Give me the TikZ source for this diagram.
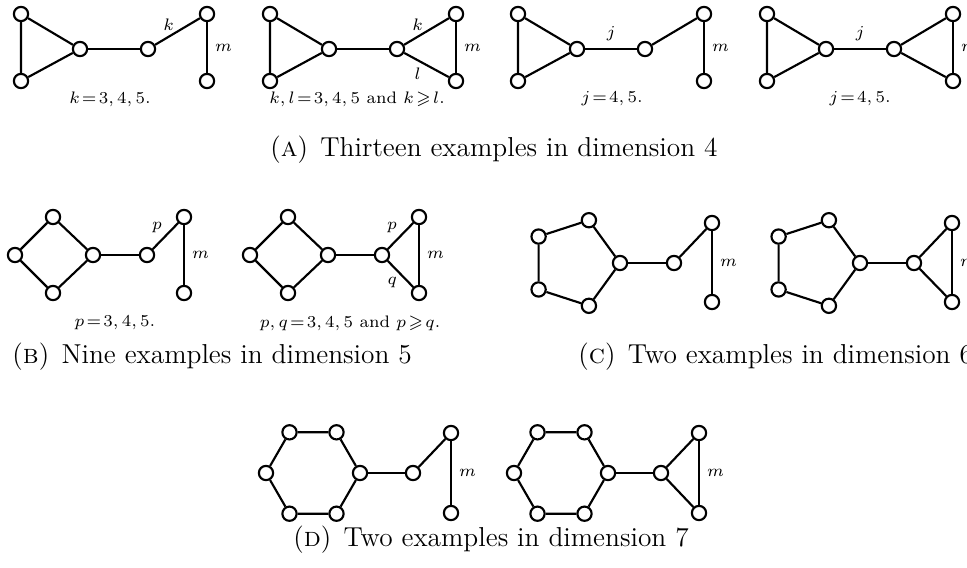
\documentclass[tikz,border=0pt]{standalone}
\usepackage{amssymb}
\usepackage{amsmath}
\usepackage{tikz}

\begin{document}
\begin{tikzpicture}[x=0.42pt, y=-0.42pt,
    wierz/.style={circle, draw, line width=0.9pt, fill=white, inner sep=0pt, minimum size=6pt},
    kraw/.style={line width=0.9pt},
    etyk/.style={font=\fontsize{7.5}{9}\selectfont, inner sep=0pt},
    opis/.style={font=\fontsize{7}{8.5}\selectfont, inner sep=0pt,
        execute at begin node={\thickmuskip=2mu plus 1mu\relax}},
    podpis/.style={font=\fontsize{11.5}{14}\selectfont, inner sep=0pt}]

\useasboundingbox (0,0) rectangle (967,567);

% ============================================
% (A) WYMIAR 4
% ============================================
\begin{scope}[shift={(21,0)}]
    \node[wierz] (A1a) at (0,14) {};
    \node[wierz] (A1b) at (0,81) {};
    \node[wierz] (A1c) at (59,49) {};
    \node[wierz] (A1d) at (127,49) {};
    \node[wierz] (A1e) at (186,14) {};
    \node[wierz] (A1f) at (186,81) {};
    \draw[kraw] (A1a) -- (A1b) -- (A1c) -- (A1a);
    \draw[kraw] (A1c) -- (A1d);
    \draw[kraw] (A1d) -- node[etyk, pos=.3, above=2pt] {$k$} (A1e);
    \draw[kraw] (A1e) -- node[etyk, right=3pt] {$m$} (A1f);
    \node[opis] (A1p) at (89,99) {$k=3,4,5.$};
\end{scope}

\begin{scope}[shift={(270,0)}]
    \node[wierz] (A2a) at (0,14) {};
    \node[wierz] (A2b) at (0,81) {};
    \node[wierz] (A2c) at (59,49) {};
    \node[wierz] (A2d) at (127,49) {};
    \node[wierz] (A2e) at (186,14) {};
    \node[wierz] (A2f) at (186,81) {};
    \draw[kraw] (A2a) -- (A2b) -- (A2c) -- (A2a);
    \draw[kraw] (A2c) -- (A2d);
    \draw[kraw] (A2d) -- node[etyk, pos=.3, above=2pt] {$k$} (A2e);
    \draw[kraw] (A2d) -- node[etyk, pos=.3, below=3pt] {$l$} (A2f);
    \draw[kraw] (A2e) -- node[etyk, right=3pt] {$m$} (A2f);
    \node[opis] (A2p) at (87,99) {$k,l=3,4,5$ and $k\geqslant l$.};
\end{scope}

\begin{scope}[shift={(518,0)}]
    \node[wierz] (A3a) at (0,14) {};
    \node[wierz] (A3b) at (0,81) {};
    \node[wierz] (A3c) at (59,49) {};
    \node[wierz] (A3d) at (127,49) {};
    \node[wierz] (A3e) at (186,14) {};
    \node[wierz] (A3f) at (186,81) {};
    \draw[kraw] (A3a) -- (A3b) -- (A3c) -- (A3a);
    \draw[kraw] (A3c) -- node[etyk, above=3pt] {$j$} (A3d);
    \draw[kraw] (A3d) -- (A3e);
    \draw[kraw] (A3e) -- node[etyk, right=3pt] {$m$} (A3f);
    \node[opis] (A3p) at (94,99) {$j=4,5.$};
\end{scope}

\begin{scope}[shift={(767,0)}]
    \node[wierz] (A4a) at (0,14) {};
    \node[wierz] (A4b) at (0,81) {};
    \node[wierz] (A4c) at (59,49) {};
    \node[wierz] (A4d) at (127,49) {};
    \node[wierz] (A4e) at (186,14) {};
    \node[wierz] (A4f) at (186,81) {};
    \draw[kraw] (A4a) -- (A4b) -- (A4c) -- (A4a);
    \draw[kraw] (A4c) -- node[etyk, above=3pt] {$j$} (A4d);
    \draw[kraw] (A4d) -- (A4e);
    \draw[kraw] (A4d) -- (A4f);
    \draw[kraw] (A4e) -- node[etyk, right=3pt] {$m$} (A4f);
    \node[opis] (A4p) at (93,99) {$j=4,5.$};
\end{scope}

\node[podpis] (capA) at (494,150) {(\textsc{a})\hspace{0.45em}Thirteen examples in dimension 4};

% ============================================
% (B) WYMIAR 5
% ============================================
\begin{scope}[shift={(15,0)}]
    \node[wierz] (B1a) at (0,255) {};
    \node[wierz] (B1b) at (38,217) {};
    \node[wierz] (B1c) at (78,255) {};
    \node[wierz] (B1d) at (38,293) {};
    \node[wierz] (B1e) at (132,255) {};
    \node[wierz] (B1f) at (169,217) {};
    \node[wierz] (B1g) at (169,293) {};
    \draw[kraw] (B1a) -- (B1b) -- (B1c) -- (B1d) -- (B1a);
    \draw[kraw] (B1c) -- (B1e);
    \draw[kraw] (B1e) -- node[etyk, above left=1pt] {$p$} (B1f);
    \draw[kraw] (B1f) -- node[etyk, right=3pt] {$m$} (B1g);
    \node[opis] (B1p) at (100,323) {$p=3,4,5.$};
\end{scope}

\begin{scope}[shift={(250,0)}]
    \node[wierz] (B2a) at (0,255) {};
    \node[wierz] (B2b) at (38,217) {};
    \node[wierz] (B2c) at (78,255) {};
    \node[wierz] (B2d) at (38,293) {};
    \node[wierz] (B2e) at (132,255) {};
    \node[wierz] (B2f) at (169,217) {};
    \node[wierz] (B2g) at (169,293) {};
    \draw[kraw] (B2a) -- (B2b) -- (B2c) -- (B2d) -- (B2a);
    \draw[kraw] (B2c) -- (B2e);
    \draw[kraw] (B2e) -- node[etyk, above left=1pt] {$p$} (B2f);
    \draw[kraw] (B2e) -- node[etyk, below left=1pt] {$q$} (B2g);
    \draw[kraw] (B2f) -- node[etyk, right=3pt] {$m$} (B2g);
    \node[opis] (B2p) at (100,323) {$p,q=3,4,5$ and $p\geqslant q$.};
\end{scope}

\node[podpis, anchor=west] (capB) at (12,357) {(\textsc{b})\hspace{0.45em}Nine examples in dimension 5};

% ============================================
% (C) WYMIAR 6
% ============================================
\begin{scope}[shift={(575,263)}]
    \node[wierz] (C1a) at (0:45) {};
    \node[wierz] (C1b) at (72:45) {};
    \node[wierz] (C1c) at (144:45) {};
    \node[wierz] (C1d) at (216:45) {};
    \node[wierz] (C1e) at (288:45) {};
    \node[wierz] (C1f) at (99,0) {};
    \node[wierz] (C1g) at (137,-40) {};
    \node[wierz] (C1h) at (137,39) {};
    \draw[kraw] (C1a) -- (C1b) -- (C1c) -- (C1d) -- (C1e) -- (C1a);
    \draw[kraw] (C1a) -- (C1f);
    \draw[kraw] (C1f) -- (C1g);
    \draw[kraw] (C1g) -- node[etyk, right=3pt] {$m$} (C1h);
\end{scope}

\begin{scope}[shift={(815,263)}]
    \node[wierz] (C2a) at (0:45) {};
    \node[wierz] (C2b) at (72:45) {};
    \node[wierz] (C2c) at (144:45) {};
    \node[wierz] (C2d) at (216:45) {};
    \node[wierz] (C2e) at (288:45) {};
    \node[wierz] (C2f) at (99,0) {};
    \node[wierz] (C2g) at (137,-40) {};
    \node[wierz] (C2h) at (137,39) {};
    \draw[kraw] (C2a) -- (C2b) -- (C2c) -- (C2d) -- (C2e) -- (C2a);
    \draw[kraw] (C2a) -- (C2f);
    \draw[kraw] (C2f) -- (C2g);
    \draw[kraw] (C2f) -- (C2h);
    \draw[kraw] (C2g) -- node[etyk, right=3pt] {$m$} (C2h);
\end{scope}

\node[podpis, anchor=west] (capC) at (578,357) {(\textsc{c})\hspace{0.45em}Two examples in dimension 6};

% ============================================
% (D) WYMIAR 7
% ============================================
\begin{scope}[shift={(313,473)}]
    \foreach \k in {0,...,5}
        \node[wierz] (D1h\k) at (60*\k:47) {};
    \node[wierz] (D1f) at (100,0) {};
    \node[wierz] (D1g) at (138,-40) {};
    \node[wierz] (D1h) at (138,40) {};
    \draw[kraw] (D1h0) -- (D1h1) -- (D1h2) -- (D1h3) -- (D1h4) -- (D1h5) -- (D1h0);
    \draw[kraw] (D1h0) -- (D1f);
    \draw[kraw] (D1f) -- (D1g);
    \draw[kraw] (D1g) -- node[etyk, right=3pt] {$m$} (D1h);
\end{scope}

\begin{scope}[shift={(561,473)}]
    \foreach \k in {0,...,5}
        \node[wierz] (D2h\k) at (60*\k:47) {};
    \node[wierz] (D2f) at (100,0) {};
    \node[wierz] (D2g) at (138,-40) {};
    \node[wierz] (D2h) at (138,40) {};
    \draw[kraw] (D2h0) -- (D2h1) -- (D2h2) -- (D2h3) -- (D2h4) -- (D2h5) -- (D2h0);
    \draw[kraw] (D2h0) -- (D2f);
    \draw[kraw] (D2f) -- (D2g);
    \draw[kraw] (D2f) -- (D2h);
    \draw[kraw] (D2g) -- node[etyk, right=3pt] {$m$} (D2h);
\end{scope}

\node[podpis] (capD) at (491,540) {(\textsc{d})\hspace{0.45em}Two examples in dimension 7};

\end{tikzpicture}
\end{document}
